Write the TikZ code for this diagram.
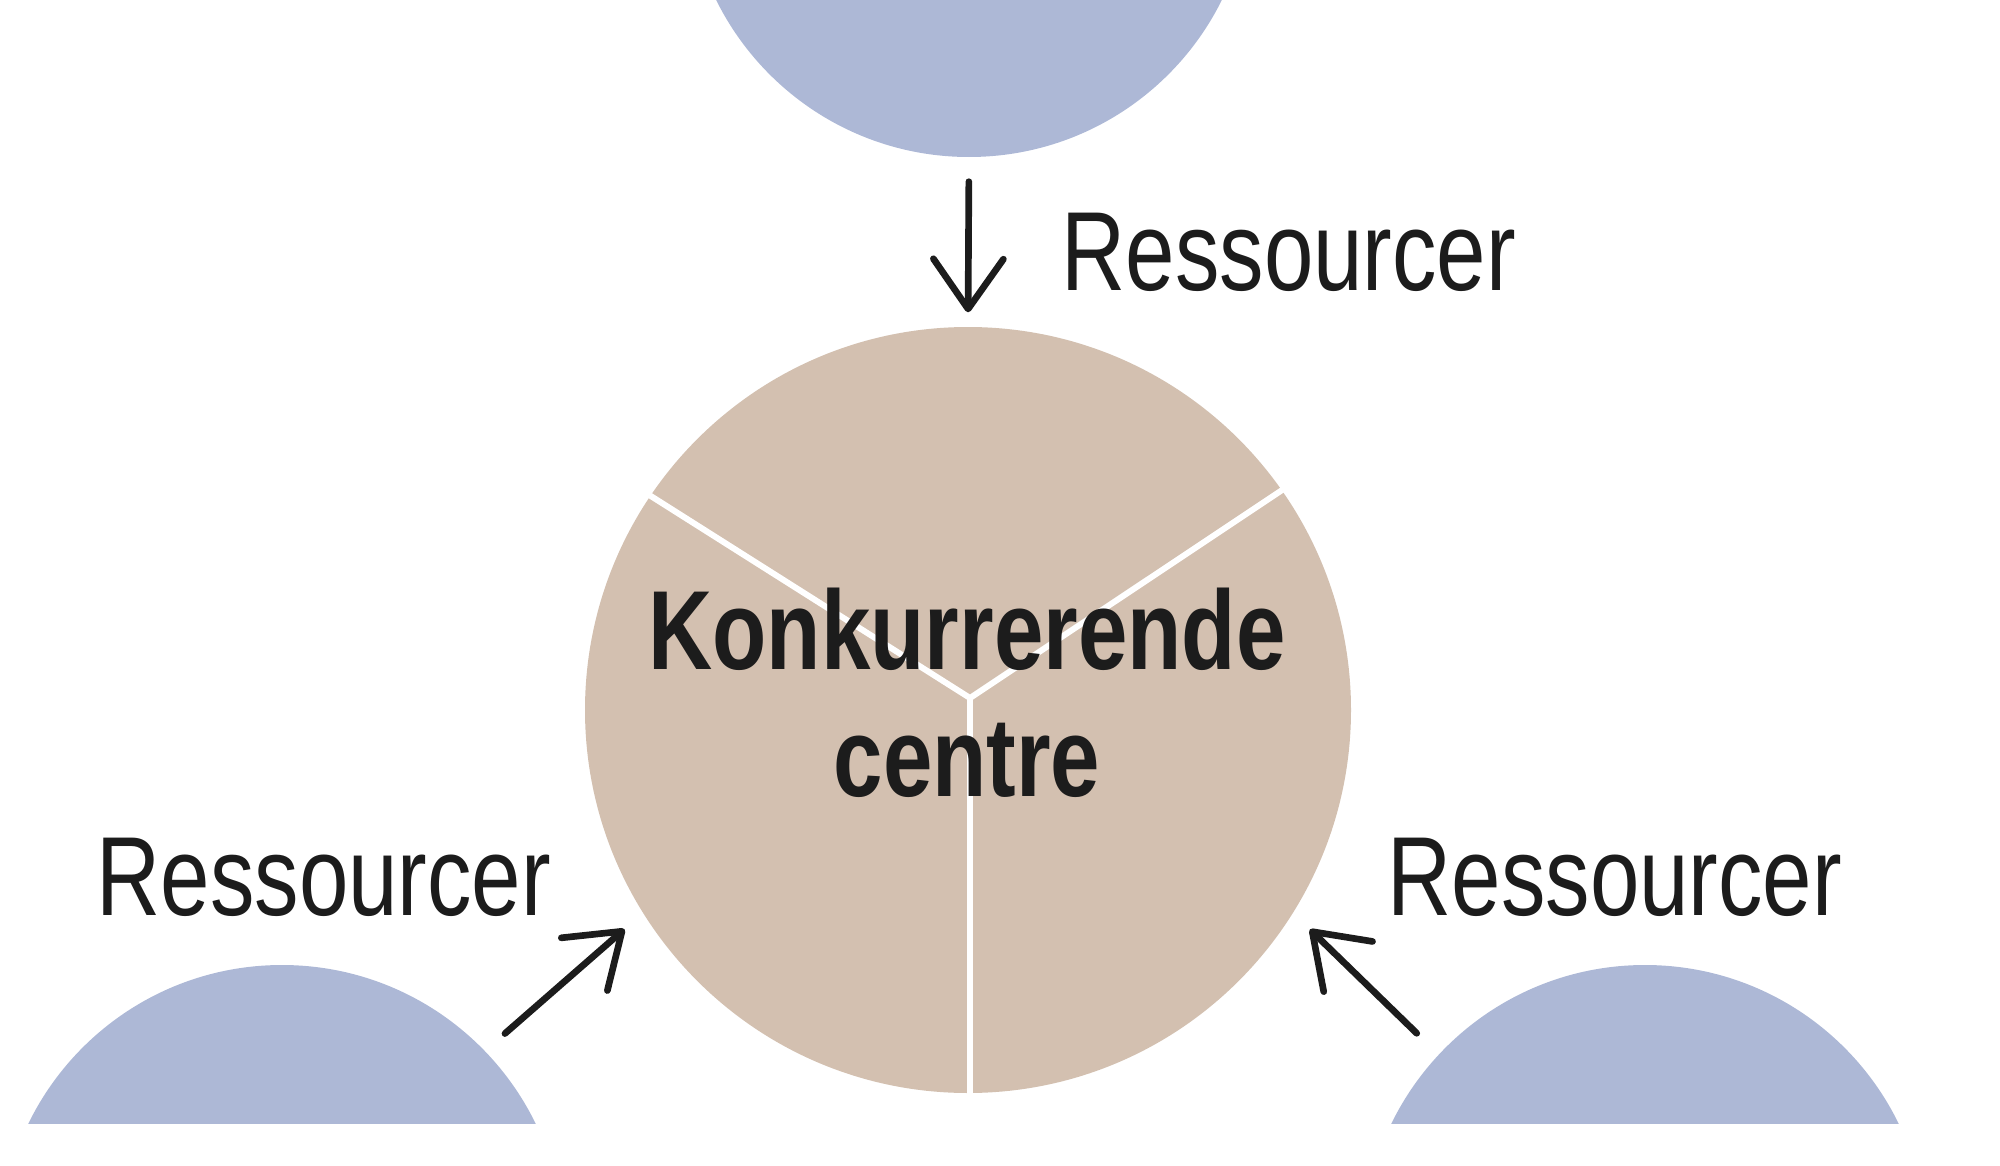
\documentclass[tikz,border=0pt]{standalone}
\usepackage{fontspec}
\setmainfont{Liberation Sans}[FakeStretch=0.79]
\usetikzlibrary{calc,arrows.meta}
\definecolor{sand}{HTML}{D3C0B0}
\definecolor{lavender}{HTML}{ADB8D6}
\definecolor{ink}{HTML}{1C1C1C}
\tikzset{
	source/.style={circle,fill=lavender,inner sep=0pt,minimum size=5.64cm},
	hub/.style={circle,fill=sand,inner sep=0pt,minimum size=7.66cm},
	split/.style={white,line width=1.7pt},
	flow/.style={ink,line width=1.9pt,line cap=round,-{Straight Barb[length=5mm,width=7mm,round]}},
	restext/.style={ink,font=\fontsize{32}{36}\selectfont,inner sep=0pt,anchor=base west},
	hubtext/.style={ink,font=\bfseries\fontsize{32}{36}\selectfont,inner sep=0pt,anchor=base}
}

\begin{document}
\begin{tikzpicture}
	% Rahmen
	\useasboundingbox (0,0) rectangle (20,11.65);
	% Kilder
	\begin{scope}
		\clip (0,0.42) rectangle (20,11.65);
		\node[source] (top) at (9.69,12.90) {};
		\node[source] (left) at (2.82,-0.82) {};
		\node[source] (right) at (16.45,-0.82) {};
	\end{scope}
	% Centre
	\node[hub] (hub) at (9.68,4.55) {};
	\coordinate (fork) at ($(hub.center)+(0.02,0.12)$);
	\draw[split] (hub.146) -- (fork) -- (hub.35);
	\draw[split] (fork) -- (fork |- hub.south);
	\node[hubtext] (hubname) at (9.67,4.96) {Konkurrerende};
	\node[hubtext] (hubname2) at (9.67,3.69) {centre};
	% Ressourcer
	\draw[flow,shorten <=2.4mm,shorten >=1.4mm] (top.270) -- (hub.90);
	\draw[flow,shorten <=2.6mm,shorten >=2.4mm] (left.44) -- (hub.212);
	\draw[flow,shorten <=3mm,shorten >=2.3mm] (right.137) -- (hub.328);
	\node[restext] (restop) at (10.61,8.75) {Ressourcer};
	\node[restext] (resleft) at (0.96,2.50) {Ressourcer};
	\node[restext] (resright) at (13.87,2.50) {Ressourcer};
\end{tikzpicture}
\end{document}
